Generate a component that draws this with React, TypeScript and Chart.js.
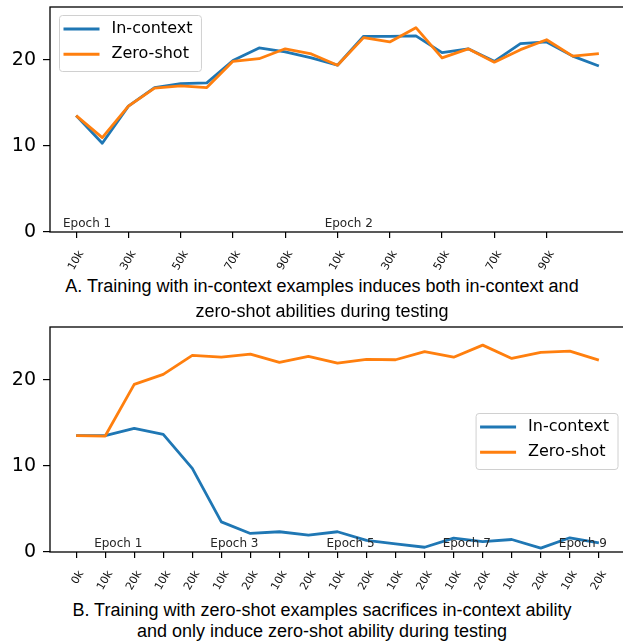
import React, { useEffect, useRef } from 'react';
import { Chart, registerables } from 'chart.js';

Chart.register(...registerables);
Chart.defaults.font.family = '"DejaVu Sans", sans-serif';
Chart.defaults.color = '#000';

// ---------- data ----------
const seriesNames = ['In-context', 'Zero-shot'];
const seriesColors = ['#1f77b4', '#ff7f0e'];
const yTickValues = [0, 10, 20];

// Panel A
const topTickPositions = [0, 2, 4, 6, 8, 10, 12, 14, 16, 18];
const topTickLabels = ['10k', '30k', '50k', '70k', '90k', '10k', '30k', '50k', '70k', '90k'];
const inContextA = [13.5, 10.3, 14.6, 16.75, 17.2, 17.3, 19.9, 21.35, 20.9, 20.2, 19.35, 22.7, 22.7, 22.75, 20.8, 21.25, 19.8, 21.85, 22.05, 20.4, 19.25];
const zeroShotA = [13.5, 10.95, 14.6, 16.7, 16.95, 16.75, 19.8, 20.1, 21.25, 20.65, 19.35, 22.55, 22.05, 23.7, 20.2, 21.25, 19.7, 21.15, 22.3, 20.4, 20.7];
const topEpochLabels = ['Epoch 1', 'Epoch 2'];
const topEpochPositions = [0.42, 10.43];
const topCaption = [
  'A. Training with in-context examples induces both in-context and',
  'zero-shot abilities during testing',
];

// Panel B
const bottomTickLabels = ['0k', '10k', '20k', '10k', '20k', '10k', '20k', '10k', '20k', '10k', '20k', '10k', '20k', '10k', '20k', '10k', '20k', '10k', '20k'];
const bottomTickPositions = bottomTickLabels.map((_, i) => i);
const inContextB = [13.5, 13.5, 14.35, 13.65, 9.7, 3.5, 2.15, 2.35, 1.95, 2.35, 1.35, 0.95, 0.55, 1.6, 1.2, 1.45, 0.45, 1.65, 1.05];
const zeroShotB = [13.5, 13.45, 19.45, 20.6, 22.8, 22.6, 22.95, 22.0, 22.7, 21.9, 22.35, 22.3, 23.25, 22.6, 24.0, 22.45, 23.15, 23.3, 22.25];
const bottomEpochLabels = ['Epoch 1', 'Epoch 3', 'Epoch 5', 'Epoch 7', 'Epoch 9'];
const bottomEpochPositions = [1.45, 5.45, 9.45, 13.45, 17.45];
const bottomCaption = [
  'B. Training with zero-shot examples sacrifices in-context ability',
  'and only induce zero-shot ability during testing',
];

// ---------- helpers ----------
const CANVAS_W = 628;
const CANVAS_H = 275;

type PanelSpec = {
  series: number[][];
  tickPositions: number[];
  tickLabels: string[];
  xMin: number;
  xMax: number;
  epochLabels: string[];
  epochPositions: number[];
  legend: { left?: number; right?: number; top: number };
};

function makeConfig(spec: PanelSpec): any {
  const framePlugin = {
    id: 'frame',
    afterDatasetsDraw(chart: any) {
      const { ctx, chartArea: ca, scales } = chart;
      ctx.save();
      // epoch annotations (in data coordinates)
      ctx.font = '12px "DejaVu Sans"';
      ctx.fillStyle = '#262626';
      ctx.textAlign = 'center';
      ctx.textBaseline = 'alphabetic';
      spec.epochLabels.forEach((t, i) => {
        ctx.fillText(t, scales.x.getPixelForValue(spec.epochPositions[i]), scales.y.getPixelForValue(0.62));
      });
      // frame
      ctx.strokeStyle = '#000';
      ctx.lineWidth = 1.3;
      ctx.strokeRect(ca.left, ca.top, ca.right - ca.left, ca.bottom - ca.top);
      // legend
      ctx.font = '16px "DejaVu Sans"';
      const ds = chart.data.datasets;
      const textW = Math.max(...ds.map((d: any) => ctx.measureText(d.label).width));
      const w = 4.5 + 36 + 12 + textW + 8.5;
      const h = 56;
      const x = spec.legend.left != null ? ca.left + spec.legend.left : ca.right - (spec.legend.right as number) - w;
      const y = ca.top + spec.legend.top;
      ctx.beginPath();
      ctx.roundRect(x + 0.5, y + 0.5, w, h, 3);
      ctx.fillStyle = 'rgba(255,255,255,0.8)';
      ctx.fill();
      ctx.strokeStyle = '#d0d0d0';
      ctx.lineWidth = 1;
      ctx.stroke();
      ds.forEach((d: any, i: number) => {
        const ry = y + 14 + i * 25.3;
        ctx.beginPath();
        ctx.moveTo(x + 4.5, ry);
        ctx.lineTo(x + 40.5, ry);
        ctx.strokeStyle = d.borderColor;
        ctx.lineWidth = 3;
        ctx.stroke();
        ctx.fillStyle = '#000';
        ctx.textAlign = 'left';
        ctx.textBaseline = 'middle';
        ctx.fillText(d.label, x + 52.5, ry);
      });
      ctx.restore();
    },
  };

  return {
    type: 'line',
    data: {
      datasets: spec.series.map((vals, s) => ({
        label: seriesNames[s],
        data: vals.map((v, i) => ({ x: i, y: v })),
        borderColor: seriesColors[s],
        backgroundColor: seriesColors[s],
        borderWidth: 2.8,
        pointRadius: 0,
        tension: 0,
        fill: false,
        borderJoinStyle: 'round',
        order: s === 0 ? 1 : 0,
      })),
    },
    options: {
      animation: false,
      responsive: false,
      events: [],
      layout: { padding: { left: 0, top: 7, right: 3, bottom: 0 } },
      plugins: { legend: { display: false }, tooltip: { enabled: false } },
      scales: {
        x: {
          type: 'linear',
          min: spec.xMin,
          max: spec.xMax,
          border: { display: false },
          grid: { display: true, drawOnChartArea: false, drawTicks: true, tickLength: 6, color: '#000', lineWidth: 1.2 },
          afterBuildTicks: (scale: any) => {
            scale.ticks = spec.tickPositions.map((v) => ({ value: v }));
          },
          ticks: {
            autoSkip: false,
            minRotation: 60,
            maxRotation: 60,
            padding: 10.5,
            labelOffset: 5,
            font: { size: 11 },
            color: '#111',
            callback: (_v: any, idx: number) => spec.tickLabels[idx],
          },
          afterFit: (scale: any) => {
            scale.height = CANVAS_H - 232;
            scale.paddingLeft = 0;
            scale.paddingRight = 0;
          },
        },
        y: {
          type: 'linear',
          min: 0,
          max: 26.1,
          border: { display: false },
          grid: { display: true, drawOnChartArea: false, drawTicks: true, tickLength: 7, color: '#000', lineWidth: 1.2 },
          afterBuildTicks: (scale: any) => {
            scale.ticks = yTickValues.map((v) => ({ value: v }));
          },
          ticks: { padding: 7, font: { size: 19 }, color: '#000' },
          afterFit: (scale: any) => {
            scale.width = 50;
            scale.paddingTop = 0;
            scale.paddingBottom = 0;
          },
        },
      },
    },
    plugins: [framePlugin],
  };
}

function Panel({ spec, top }: { spec: PanelSpec; top: number }) {
  const ref = useRef<HTMLCanvasElement>(null);
  useEffect(() => {
    const chart = new Chart(ref.current as HTMLCanvasElement, makeConfig(spec));
    return () => chart.destroy();
  }, []);
  return (
    <canvas
      ref={ref}
      width={CANVAS_W}
      height={CANVAS_H}
      style={{ position: 'absolute', left: 0, top, width: CANVAS_W, height: CANVAS_H }}
    />
  );
}

function Caption({ lines, tops }: { lines: string[]; tops: number[] }) {
  return (
    <>
      {lines.map((l, i) => (
        <div
          key={i}
          style={{
            position: 'absolute',
            left: 0,
            width: 644,
            top: tops[i],
            textAlign: 'center',
            fontFamily: '"Liberation Sans", Arial, sans-serif',
            fontSize: 18,
            lineHeight: '20px',
            color: '#000',
            whiteSpace: 'nowrap',
          }}
        >
          {l}
        </div>
      ))}
    </>
  );
}

const specA: PanelSpec = {
  series: [inContextA, zeroShotA],
  tickPositions: topTickPositions,
  tickLabels: topTickLabels,
  xMin: -1,
  xMax: 21,
  epochLabels: topEpochLabels,
  epochPositions: topEpochPositions,
  legend: { left: 9, top: 8 },
};

const specB: PanelSpec = {
  series: [inContextB, zeroShotB],
  tickPositions: bottomTickPositions,
  tickLabels: bottomTickLabels,
  xMin: -0.9,
  xMax: 18.9,
  epochLabels: bottomEpochLabels,
  epochPositions: bottomEpochPositions,
  legend: { right: 7.5, top: 86 },
};

export default function App() {
  return (
    <div style={{ position: 'absolute', left: 0, top: 0, width: 623, height: 641, overflow: 'hidden', background: '#fff' }}>
      <Panel spec={specA} top={0} />
      <Panel spec={specB} top={320} />
      <Caption lines={topCaption} tops={[276, 300.5]} />
      <Caption lines={bottomCaption} tops={[600, 621]} />
    </div>
  );
}
